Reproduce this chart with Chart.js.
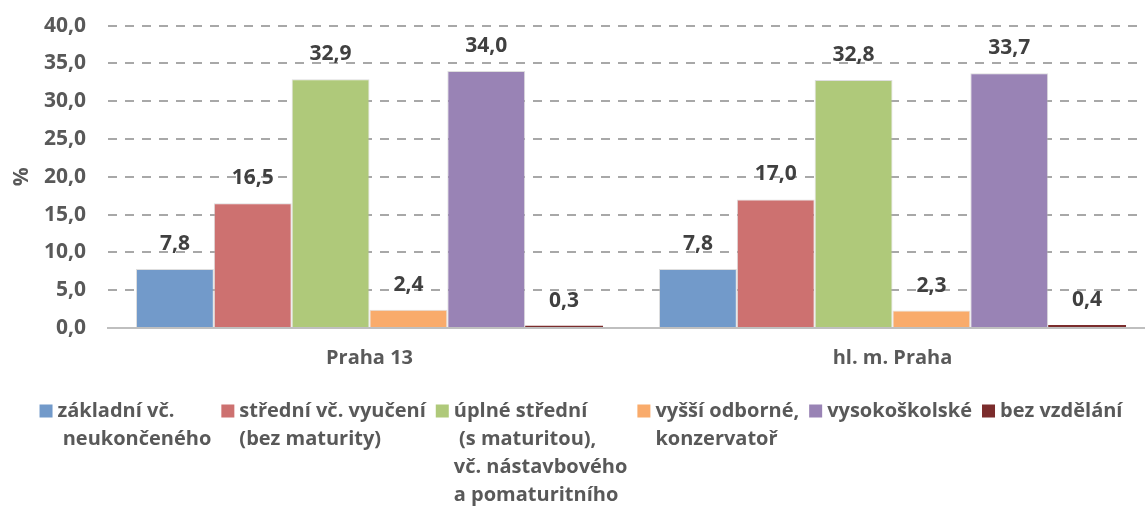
<!DOCTYPE html>
<html lang="cs">
<head>
<meta charset="utf-8">
<title>Vzdělání obyvatel</title>
<script src="https://cdn.jsdelivr.net/npm/chart.js@4.4.1/dist/chart.umd.min.js"></script>
<style>
  html, body { margin: 0; padding: 0; background: #fff; overflow: hidden; }
  /* canvas is a bit larger than the window: the original plot area is cut off
     on the right, and the top tick label sits close to the edge */
  #wrap { width: 1160px; height: 518px; margin-top: -9px; }
</style>
</head>
<body>
<div id="wrap"><canvas id="eduChart" width="1160" height="518"></canvas></div>
<script>
// ── Data ───────────────────────────────────────────────────────
const categories = ["Praha 13", "hl. m. Praha"];

const seriesNames = [
  ["základní vč.", " neukončeného"],
  ["střední vč. vyučení", "(bez maturity)"],
  ["úplné střední", " (s maturitou),", "vč. nástavbového", "a pomaturitního"],
  ["vyšší odborné,", "konzervatoř"],
  ["vysokoškolské"],
  ["bez vzdělání"]
];

const zakladni    = [7.8, 7.8];
const stredni     = [16.5, 17.0];
const uplneStr    = [32.9, 32.8];
const vyssiOdb    = [2.4, 2.3];
const vysokoskol  = [34.0, 33.7];
const bezVzdelani = [0.3, 0.4];

const yTicks = [0, 5, 10, 15, 20, 25, 30, 35, 40];

const seriesValues = [zakladni, stredni, uplneStr, vyssiOdb, vysokoskol, bezVzdelani];
const seriesColors = ["#729ACA", "#CD7170", "#AFC97A", "#F9AB6B", "#9983B5", "#7B2C2C"];

const FONT = "'Open Sans', sans-serif";
const fmt = v => v.toFixed(1).replace(".", ",");

// ── Data labels (drawn below the grid, like the original) ──
const valueLabels = {
  id: "valueLabels",
  afterDatasetsDraw(chart) {
    const ctx = chart.ctx;
    ctx.save();
    ctx.font = `bold 21px ${FONT}`;
    ctx.fillStyle = "#404040";
    ctx.textAlign = "center";
    ctx.textBaseline = "middle";
    chart.data.datasets.forEach((ds, i) => {
      chart.getDatasetMeta(i).data.forEach((bar, j) => {
        ctx.fillText(fmt(ds.data[j]), bar.x, bar.y - 25);
      });
    });
    ctx.restore();
  }
};

// ── Legend with wrapped labels ──
const wrapLegend = {
  id: "wrapLegend",
  afterDraw(chart) {
    const ctx = chart.ctx;
    ctx.save();
    ctx.font = `bold 20px ${FONT}`;
    ctx.textBaseline = "middle";
    ctx.textAlign = "left";
    const box = 13, gapBox = 5, gapItem = 10, lineH = 28, top = 420, center = 581;
    const items = chart.data.datasets.map(ds => {
      const w = Math.max(...ds.label.map(l => ctx.measureText(l).width));
      return { ds, w: box + gapBox + w };
    });
    const total = items.reduce((s, it) => s + it.w, 0) + gapItem * (items.length - 1);
    let x = center - total / 2;
    items.forEach(it => {
      ctx.fillStyle = it.ds.backgroundColor;
      ctx.fillRect(x, top - box / 2, box, box);
      ctx.fillStyle = "#595959";
      it.ds.label.forEach((line, k) => {
        ctx.fillText(line, x + box + gapBox, top + k * lineH);
      });
      x += it.w + gapItem;
    });
    ctx.restore();
  }
};

// ── Chart ──
const ctx = document.getElementById("eduChart").getContext("2d");

new Chart(ctx, {
  type: "bar",
  data: {
    labels: categories,
    datasets: seriesValues.map((vals, i) => ({
      label: seriesNames[i],
      data: vals,
      backgroundColor: seriesColors[i],
      borderColor: "rgba(190,190,190,0.5)",
      borderWidth: i === 5 ? 0 : 1,
      categoryPercentage: 0.893,
      barPercentage: 1.0
    }))
  },
  options: {
    responsive: false,
    animation: false,
    layout: { padding: { top: 0, right: 6, bottom: 129, left: 0 } },
    plugins: {
      legend: { display: false },
      tooltip: { enabled: false }
    },
    scales: {
      x: {
        grid: { display: false },
        border: { color: "#BFBFBF", width: 2 },
        ticks: {
          color: "#595959",
          padding: 10,
          font: { family: FONT, size: 20, weight: "bold" }
        }
      },
      y: {
        min: 0,
        max: 40,
        z: 1,
        afterBuildTicks(scale) {
          scale.ticks = yTicks.map(v => ({ value: v }));
        },
        afterFit(scale) { scale.width = 108; },
        border: { display: false, dash: [9, 8] },
        grid: {
          drawTicks: false,
          lineWidth: 2,
          color: c => c.tick.value === 0 ? "rgba(0,0,0,0)" : "rgba(110,110,110,0.6)"
        },
        ticks: {
          color: "#595959",
          padding: 22,
          font: { family: FONT, size: 21, weight: "bold" },
          callback: v => fmt(v)
        },
        title: {
          display: true,
          text: "%",
          color: "#595959",
          padding: { top: 9, bottom: 0 },
          font: { family: FONT, size: 21, weight: "bold" }
        }
      }
    }
  },
  plugins: [valueLabels, wrapLegend]
});
</script>
</body>
</html>
